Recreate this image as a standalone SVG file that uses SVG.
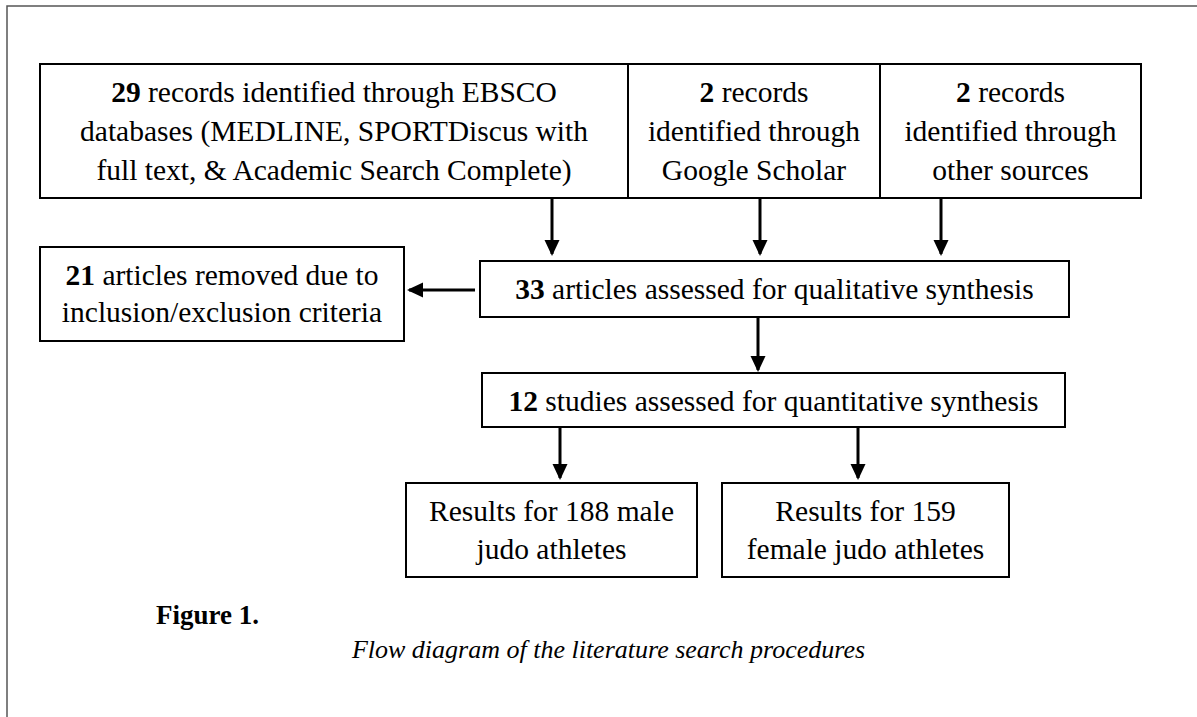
<svg xmlns="http://www.w3.org/2000/svg" width="1197" height="717" viewBox="0 0 1197 717">
<style>
.box{fill:#fff;stroke:#000;stroke-width:2}
.t{font-family:"Liberation Serif","Times New Roman",serif;font-size:29.5px;fill:#000;text-anchor:middle}
.b{font-weight:bold}
.conn line{stroke:#000;stroke-width:3}
.frame{stroke:#555;stroke-width:1.5;fill:none}
</style>
<defs>
<marker id="ah" markerUnits="userSpaceOnUse" markerWidth="17" markerHeight="17" viewBox="0 0 17 17" refX="14" refY="8.5" orient="auto">
<path d="M0,1 L16,8.5 L0,16 z" fill="#000"/>
</marker>
</defs>
<rect width="1197" height="717" fill="#fff"/>
<path class="frame" d="M7,717 V6 H1197"/>

<g id="n-ebsco">
<rect class="box" x="40" y="64" width="588" height="134"/>
<text class="t" x="334" y="102"><tspan class="b">29</tspan> records identified through EBSCO</text>
<text class="t" x="334" y="141">databases (MEDLINE, SPORTDiscus with</text>
<text class="t" x="334" y="180">full text, &amp; Academic Search Complete)</text>
</g>
<g id="n-google">
<rect class="box" x="628" y="64" width="252" height="134"/>
<text class="t" x="754" y="102"><tspan class="b">2</tspan> records</text>
<text class="t" x="754" y="141">identified through</text>
<text class="t" x="754" y="180">Google Scholar</text>
</g>
<g id="n-other">
<rect class="box" x="880" y="64" width="261" height="134"/>
<text class="t" x="1010.5" y="102"><tspan class="b">2</tspan> records</text>
<text class="t" x="1010.5" y="141">identified through</text>
<text class="t" x="1010.5" y="180">other sources</text>
</g>
<g id="n-removed">
<rect class="box" x="40" y="247" width="364" height="94"/>
<text class="t" x="222" y="285"><tspan class="b">21</tspan> articles removed due to</text>
<text class="t" x="222" y="322">inclusion/exclusion criteria</text>
</g>
<g id="n-qual">
<rect class="box" x="480" y="261" width="589" height="56"/>
<text class="t" x="774.5" y="299"><tspan class="b">33</tspan> articles assessed for qualitative synthesis</text>
</g>
<g id="n-quant">
<rect class="box" x="482" y="373" width="583" height="54"/>
<text class="t" x="773.5" y="411"><tspan class="b">12</tspan> studies assessed for quantitative synthesis</text>
</g>
<g id="n-male">
<rect class="box" x="406" y="483" width="291" height="94"/>
<text class="t" x="551.5" y="521">Results for 188 male</text>
<text class="t" x="551.5" y="559">judo athletes</text>
</g>
<g id="n-female">
<rect class="box" x="722" y="483" width="287" height="94"/>
<text class="t" x="865.5" y="521">Results for 159</text>
<text class="t" x="865.5" y="559">female judo athletes</text>
</g>

<g id="connectors" class="conn">
<line x1="552" y1="199" x2="552" y2="254" marker-end="url(#ah)"/>
<line x1="760" y1="199" x2="760" y2="254" marker-end="url(#ah)"/>
<line x1="941" y1="199" x2="941" y2="254" marker-end="url(#ah)"/>
<line x1="475" y1="290" x2="409" y2="290" marker-end="url(#ah)"/>
<line x1="758" y1="318" x2="758" y2="370" marker-end="url(#ah)"/>
<line x1="560" y1="428" x2="560" y2="478" marker-end="url(#ah)"/>
<line x1="858" y1="428" x2="858" y2="478" marker-end="url(#ah)"/>
</g>

<g id="caption">
<text x="156" y="624" font-family="'Liberation Serif','Times New Roman',serif" font-size="27" font-weight="bold" fill="#000">Figure 1.</text>
<text x="608.5" y="658" font-family="'Liberation Serif','Times New Roman',serif" font-size="26" font-style="italic" fill="#000" text-anchor="middle">Flow diagram of the literature search procedures</text>
</g>
</svg>
